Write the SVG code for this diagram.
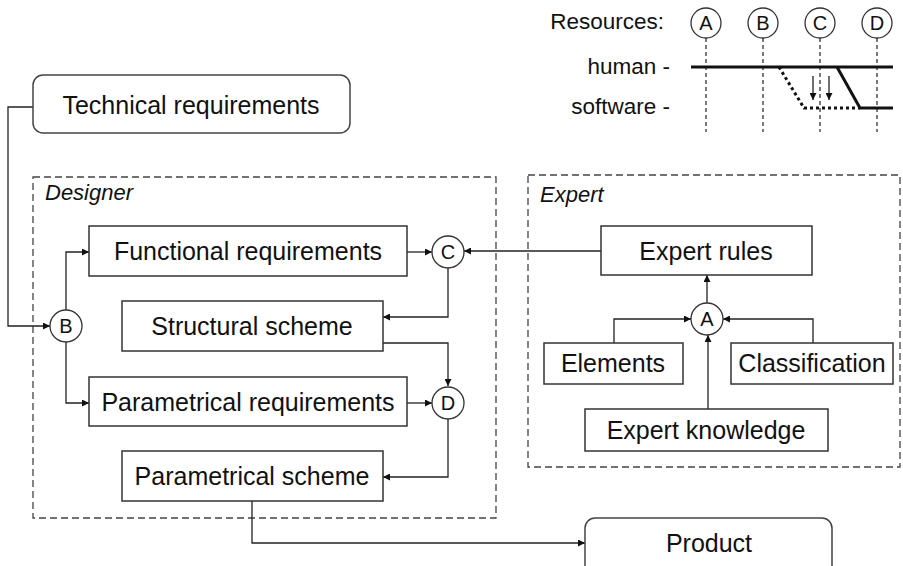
<svg xmlns="http://www.w3.org/2000/svg" width="903" height="566" viewBox="0 0 903 566">
<defs>
<marker id="ah" viewBox="0 0 10 10" refX="10" refY="5" markerWidth="7" markerHeight="7" markerUnits="userSpaceOnUse" orient="auto">
<path d="M0,0 L10,5 L0,10 z" fill="#111"/>
</marker>
</defs>
<style>
.box{fill:#fff;stroke:#333;stroke-width:1.5}
.rbox{fill:#fff;stroke:#444;stroke-width:1.5}
.cir{fill:#fff;stroke:#333;stroke-width:1.3}
.grp{fill:none;stroke:#444;stroke-width:1.3;stroke-dasharray:7,4}
.t{font-family:"Liberation Sans",Arial,sans-serif;font-size:25px;fill:#111;text-anchor:middle}
.c{font-family:"Liberation Sans",Arial,sans-serif;font-size:20px;fill:#111;text-anchor:middle}
.lbl{font-family:"Liberation Sans",Arial,sans-serif;font-size:22px;font-style:italic;fill:#111}
.res{font-family:"Liberation Sans",Arial,sans-serif;font-size:22.5px;fill:#111;text-anchor:end}
.ln{fill:none;stroke:#222;stroke-width:1.3}
.vd{fill:none;stroke:#222;stroke-width:1.2;stroke-dasharray:4,3}
.thick{fill:none;stroke:#111;stroke-width:3}
.dot{fill:none;stroke:#111;stroke-width:3;stroke-dasharray:3,3}
</style>
<rect width="903" height="566" fill="#fff"/>

<g id="groups">
<rect class="grp" x="33" y="177" width="463" height="341"/>
<text class="lbl" x="45" y="200">Designer</text>
<rect class="grp" x="528" y="175" width="372" height="292"/>
<text class="lbl" x="540" y="202">Expert</text>
</g>

<g id="connectors">
<path class="ln" d="M33,107 H8 V326 H50" marker-end="url(#ah)"/>
<path class="ln" d="M66,310 V252 H89" marker-end="url(#ah)"/>
<path class="ln" d="M66,342 V403 H89" marker-end="url(#ah)"/>
<path class="ln" d="M407,252 H432" marker-end="url(#ah)"/>
<path class="ln" d="M601,251 H464" marker-end="url(#ah)"/>
<path class="ln" d="M448,268 V317 H383" marker-end="url(#ah)"/>
<path class="ln" d="M383,343 H448 V386" marker-end="url(#ah)"/>
<path class="ln" d="M407,403 H432" marker-end="url(#ah)"/>
<path class="ln" d="M448,419 V477 H383" marker-end="url(#ah)"/>
<path class="ln" d="M252,501 V543 H585" marker-end="url(#ah)"/>
<path class="ln" d="M707,303 V275" marker-end="url(#ah)"/>
<path class="ln" d="M614,343 V319 H691" marker-end="url(#ah)"/>
<path class="ln" d="M813,343 V319 H723" marker-end="url(#ah)"/>
<path class="ln" d="M708,409 V335" marker-end="url(#ah)"/>
</g>

<g id="tech"><rect class="rbox" x="33" y="75" width="317" height="58" rx="10"/><text class="t" x="191" y="114">Technical requirements</text></g>
<g id="func"><rect class="box" x="89" y="226" width="318" height="50"/><text class="t" x="248" y="260">Functional requirements</text></g>
<g id="struct"><rect class="box" x="122" y="301" width="261" height="50"/><text class="t" x="252" y="335">Structural scheme</text></g>
<g id="preq"><rect class="box" x="89" y="377" width="318" height="49"/><text class="t" x="248" y="411">Parametrical requirements</text></g>
<g id="pscheme"><rect class="box" x="122" y="451" width="261" height="50"/><text class="t" x="252" y="485">Parametrical scheme</text></g>
<g id="product"><rect class="rbox" x="585" y="518" width="247" height="60" rx="10"/><text class="t" x="709" y="552">Product</text></g>
<g id="rules"><rect class="box" x="601" y="226" width="211" height="49"/><text class="t" x="706" y="260">Expert rules</text></g>
<g id="elements"><rect class="box" x="544" y="343" width="139" height="41"/><text class="t" x="613" y="372">Elements</text></g>
<g id="classif"><rect class="box" x="731" y="343" width="162" height="41"/><text class="t" x="812" y="372">Classification</text></g>
<g id="knowledge"><rect class="box" x="585" y="409" width="243" height="42"/><text class="t" x="706" y="439">Expert knowledge</text></g>

<g id="nodeB"><circle class="cir" cx="66" cy="326" r="16"/><text class="c" x="66" y="333">B</text></g>
<g id="nodeC"><circle class="cir" cx="448" cy="252" r="16"/><text class="c" x="448" y="259">C</text></g>
<g id="nodeD"><circle class="cir" cx="448" cy="403" r="16"/><text class="c" x="448" y="410">D</text></g>
<g id="nodeA"><circle class="cir" cx="707" cy="319" r="16"/><text class="c" x="707" y="326">A</text></g>

<g id="resources">
<text class="res" x="664" y="29">Resources:</text>
<text class="res" x="670" y="74">human -</text>
<text class="res" x="670" y="114">software -</text>
<path class="vd" d="M706,38 V132 M763,38 V132 M820,38 V132 M877,38 V132"/>
<circle class="cir" cx="706" cy="23" r="15"/><text class="c" x="706" y="30">A</text>
<circle class="cir" cx="763" cy="23" r="15"/><text class="c" x="763" y="30">B</text>
<circle class="cir" cx="820" cy="23" r="15"/><text class="c" x="820" y="30">C</text>
<circle class="cir" cx="877" cy="23" r="15"/><text class="c" x="877" y="30">D</text>
<path class="thick" d="M691,67 H893"/>
<path class="dot" d="M779,67 L804,108 H860"/>
<path class="thick" d="M837,67 L860,108 H893"/>
<path class="ln" d="M813,76 V100" marker-end="url(#ah)"/>
<path class="ln" d="M829,76 V100" marker-end="url(#ah)"/>
</g>
</svg>
